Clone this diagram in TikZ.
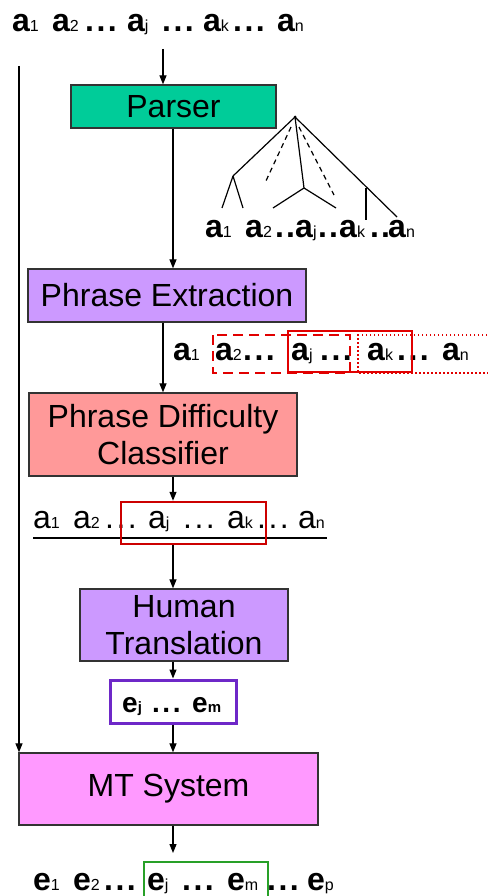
\documentclass[tikz,border=0pt]{standalone}
\usepackage{fontspec}
\setmainfont{Liberation Sans}
\usetikzlibrary{arrows.meta}
\definecolor{parsergreen}{RGB}{0,204,153}
\definecolor{lilac}{RGB}{204,153,255}
\definecolor{salmonbox}{RGB}{255,153,153}
\definecolor{pinkmt}{RGB}{255,153,255}
\definecolor{boxred}{RGB}{225,0,0}
\definecolor{darkred}{RGB}{204,0,0}
\definecolor{ejviolet}{RGB}{110,40,200}
\definecolor{outgreen}{RGB}{40,160,40}
\newcommand\at[2]{\makebox[0pt][l]{\hspace*{#1pt}#2}}
\newcommand\tkb[2]{{\bfseries #1}{\fontsize{16}{16}\selectfont #2}}
\newcommand\tkr[2]{#1{\fontsize{16}{16}\selectfont #2}}
\newcommand\tke[2]{{\bfseries #1}{\fontsize{15}{15}\selectfont\bfseries #2}}
\newcommand\dotsB{{\bfseries .\kern2.5pt.\kern2.5pt.}}
\newcommand\dotsR{.\kern2.5pt.\kern2.5pt.}
\newcommand\twodots{{\bfseries .\kern2pt.}}
\tikzset{
  blk/.style={draw=black!80, line width=1.3pt, font=\fontsize{32}{37}\selectfont, align=center, inner sep=0pt},
  arr/.style={line width=1.2pt, -{Triangle[length=9pt,width=7pt]}},
  seq/.style={anchor=base west, inner sep=0pt, font=\fontsize{32}{32}\selectfont},
  treeline/.style={line width=1.2pt},
  treedash/.style={line width=1.2pt, dash pattern=on 5pt off 4pt},
}
\begin{document}
\begin{tikzpicture}[x=1pt,y=-1pt]
\useasboundingbox (0,0) rectangle (487,896);
\fill[white] (0,0) rectangle (487,896);
\coordinate (c163) at (163,0);
\coordinate (c173) at (173,0);

% source sentence
\node[seq] (src) at (12,32) {\makebox[293pt][l]{\at{0}{\tkb a1}\at{40}{\tkb a2}\at{73}{\dotsB}\at{115}{\tkb aj}\at{150}{\dotsB}\at{191}{\tkb ak}\at{221}{\dotsB}\at{265}{\tkb an}}};

% boxes
\node[blk, fill=parsergreen, minimum width=205pt, minimum height=43pt] (parser) at (173.5,106.5) {Parser};
\node[blk, fill=lilac, minimum width=278pt, minimum height=53pt] (pe) at (167,295.5) {Phrase Extraction};
\node[blk, fill=salmonbox, minimum width=268pt, minimum height=83pt] (pdc) at (163,434.5) {Phrase Difficulty\\Classifier};
\node[blk, fill=lilac, minimum width=208pt, minimum height=72pt] (ht) at (184,625) {Human\\Translation};
\node[draw=ejviolet, line width=3pt, minimum width=126pt, minimum height=43pt, inner sep=0pt] (ejbox) at (173,701.5) {};
\node[anchor=base west, inner sep=0pt, font=\fontsize{28}{28}\selectfont] (ejtxt) at (122,712) {\makebox[105pt][l]{\at{0}{\tke ej}\at{30}{\dotsB}\at{70}{\tke em}}};
\node[blk, fill=pinkmt, minimum width=299pt, minimum height=72pt] (mt) at (168.5,789) {MT System};

% parse tree
\coordinate (apex) at (295,117);
\coordinate (lc) at (233,176);
\coordinate (mc) at (304,188);
\coordinate (rc) at (366,188);
\fill (apex) circle (1.5pt);
\draw[treeline] (apex) -- (lc);
\draw[treeline] (lc) -- (222,208);
\draw[treeline] (lc) -- (243,208);
\draw[treedash] (291,127) -- (265,183);
\draw[treeline] (apex) -- (mc);
\draw[treeline] (mc) -- (273,208);
\draw[treeline] (mc) -- (336,208);
\draw[treedash] (299,127) -- (334,195);
\draw[treeline] (apex) -- (397,217);
\draw[treeline] (rc) -- (366,220);
\node[seq] (treetxt) at (205,237) {\makebox[213pt][l]{\at{0}{\tkb a1}\at{40}{\tkb a2}\at{70}{\twodots}\at{90}{\tkb aj}\at{113}{\twodots}\at{134}{\tkb ak}\at{165}{\twodots}\at{183}{\tkb an}}};

% phrase extraction output
\node[seq] (perow) at (173,360) {\makebox[294pt][l]{\at{0}{\tkb a1}\at{42}{\tkb a2}\at{70}{\dotsB}\at{118}{\tkb aj}\at{147}{\dotsB}\at{194}{\tkb ak}\at{224}{\dotsB}\at{269}{\tkb an}}};
\draw[boxred, line width=2.5pt, dash pattern=on 10pt off 6pt] (213,335) rectangle (350,373);
\draw[boxred, line width=2.5pt] (288,331) rectangle (412,372);
\draw[boxred, line width=2pt, dash pattern=on 1.5pt off 2.5pt] (495,335) -- (358,335) -- (358,373) -- (495,373);

% classifier output
\node[seq] (clrow) at (33,528) {\makebox[294pt][l]{\at{0}{\tkr a1}\at{40}{\tkr a2}\at{72}{\dotsR}\at{115}{\tkr aj}\at{150}{\dotsR}\at{194}{\tkr ak}\at{224}{\dotsR}\at{265}{\tkr an}}};
\draw[line width=1.2pt] ([yshift=-10pt]clrow.base west) -- ([yshift=-10pt]clrow.base east);
\node[draw=darkred, line width=2.5pt, minimum width=145pt, minimum height=42pt, inner sep=0pt] (rb3) at (193.5,523) {};

% final output
\node[seq] (outrow) at (33,890) {\makebox[304pt][l]{\at{0}{\tkb e1}\at{40}{\tkb e2}\at{71}{\dotsB}\at{114}{\tkb ej}\at{149}{\dotsB}\at{194}{\tkb em}\at{234}{\dotsB}\at{274}{\tkb ep}}};
\draw[outgreen, line width=2.5pt] (144,900) |- (268,862) -- (268,900);
\coordinate (outtip) at (173,853);

% connectors
\coordinate (srcfoot) at (163,49);
\coordinate (lefttop) at (19,66);
\draw[arr] (srcfoot) -- (parser.north -| srcfoot);
\draw[arr] (lefttop) -- (mt.north -| lefttop);
\draw[arr] (parser.south -| c173) -- (pe.north -| c173);
\draw[arr] (pe.south -| c163) -- (pdc.north -| c163);
\draw[arr] (pdc.south -| c173) -- (rb3.north -| c173);
\draw[arr] (rb3.south -| c173) -- (ht.north -| c173);
\draw[arr] (ht.south -| c173) -- (ejbox.north -| c173);
\draw[arr] (ejbox.south -| c173) -- (mt.north -| c173);
\draw[arr] (mt.south -| c173) -- (outtip);
\end{tikzpicture}
\end{document}
